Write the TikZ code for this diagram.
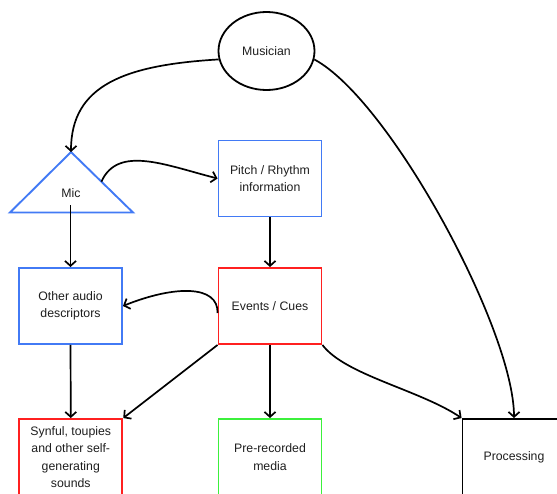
\documentclass[tikz,border=0pt]{standalone}
\usepackage{fontspec}
\setmainfont{Liberation Sans}
\usetikzlibrary{arrows.meta,shapes.geometric,calc}
\definecolor{boxblue}{RGB}{66,122,245}
\definecolor{boxred}{RGB}{255,32,32}
\definecolor{boxgreen}{RGB}{60,240,60}
\definecolor{inktext}{RGB}{30,30,30}
\begin{document}
\begin{tikzpicture}[x=1pt,y=-1pt,
  txt/.style={text=inktext, align=center, font=\fontsize{12.3}{17.3}\selectfont},
  box/.style={txt, draw, line width=1.9pt, rectangle, minimum width=103pt,
    minimum height=76pt, inner sep=2pt},
  conn/.style={draw=black, line width=1.7pt,
    -{Straight Barb[length=5pt,width=11pt,line width=1.7pt]}}]
\clip (0,0) rectangle (557,493);

% source
\node[txt, ellipse, draw=black, line width=1.8pt, minimum width=96pt,
  minimum height=78pt] (musician) at (266.5,51) {Musician};

% microphone triangle
\coordinate (micapex) at (71,152);
\coordinate (micbl) at (10,212.5);
\coordinate (micbr) at (133,212.5);
\draw[boxblue, line width=1.9pt, line join=miter] (micapex) -- (micbl) -- (micbr) -- cycle;
\node[txt] (mic) at (71,193) {Mic};
\coordinate (micright) at ($(micapex)!0.49!(micbr)$);
\coordinate (micout) at (70.5,205);

% analysis and output boxes
\node[box, draw=boxblue] (pitch) at (270,178.5) {Pitch / Rhythm\\information};
\node[box, draw=boxblue] (other) at (70.5,306) {Other audio\\descriptors};
\node[box, draw=boxred] (events) at (270,306) {Events / Cues};
\node[box, draw=boxred] (synful) at (70.8,457) {Synful, toupies\\and other self-\\generating\\sounds};
\node[box, draw=boxgreen] (pre) at (270,457) {Pre-recorded\\media};
\node[box, draw=black] (proc) at (514,457) {Processing};

\coordinate (eventsleft) at ($(events.west)+(0,7)$);

% connectors
\draw[conn] (musician.190) .. controls (125,65) and (71,85) .. (micapex);
\draw[conn] (musician.-10) .. controls (390,100) and (514,330) .. (proc.north);
\draw[conn] (micright) .. controls (118,145) and (165,165) .. (pitch.west);
\draw[conn] (micout) -- (other.north);
\draw[conn] (pitch.south) -- (events.north);
\draw[conn] (eventsleft) .. controls (218.5,285) and (175,285) .. (other.east);
\draw[conn] (other.south) -- (synful.north);
\draw[conn] (events.south west) -- (synful.north east);
\draw[conn] (events.south) -- (pre.north);
\draw[conn] (events.south east) .. controls (345,375) and (420,390) .. (proc.north west);
\end{tikzpicture}
\end{document}
